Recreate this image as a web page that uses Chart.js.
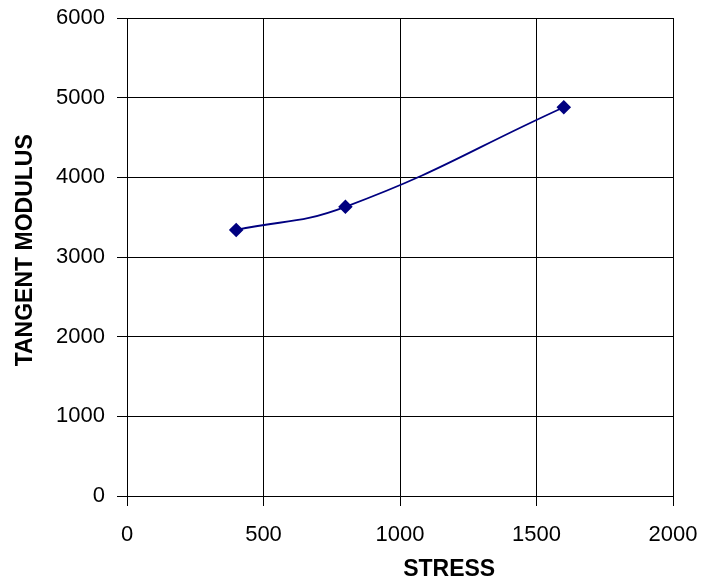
<!DOCTYPE html>
<html>
<head>
<meta charset="utf-8">
<script src="https://cdn.jsdelivr.net/npm/chart.js@4/dist/chart.umd.min.js"></script>
<style>
  html, body { margin: 0; padding: 0; background: #fff; }
  #wrap { width: 703px; height: 585px; }
</style>
</head>
<body>
<div id="wrap"><canvas id="myChart" width="703" height="585"></canvas></div>
<script>
// values
var stress = [400, 800, 1600];
var modulus = [3340, 3630, 4880];
var xTicks = [0, 500, 1000, 1500, 2000];
var yTicks = [0, 1000, 2000, 3000, 4000, 5000, 6000];
var xTitle = 'STRESS';
var yTitle = 'TANGENT MODULUS';

var points = stress.map(function (s, i) {
    return { x: s, y: modulus[i] };
});

Chart.defaults.font.family = "'Liberation Sans', Arial, sans-serif";
Chart.defaults.color = '#000';

function plain(v) {
    return String(v);
}

// axis titles sit off-centre in the original, so draw them here
const axisTitles = {
    id: 'axisTitles',
    afterDraw: function (chart) {
        var ctx = chart.ctx;
        var area = chart.chartArea;
        ctx.save();
        ctx.fillStyle = '#000';
        ctx.font = "bold 23px 'Liberation Sans', Arial, sans-serif";
        ctx.textAlign = 'center';
        ctx.textBaseline = 'middle';
        ctx.fillText(xTitle, area.left + (area.right - area.left) * 0.59, 570);
        ctx.translate(26, area.top + (area.bottom - area.top) * 0.486);
        ctx.rotate(-Math.PI / 2);
        ctx.fillText(yTitle, 0, 0);
        ctx.restore();
    }
};

const config = {
    type: 'scatter',
    data: {
        datasets: [{
            label: 'Tangent modulus',
            data: points,
            showLine: true,
            tension: 0.45,
            borderColor: '#000080',
            backgroundColor: '#000080',
            borderWidth: 1.8,
            pointStyle: 'rectRot',
            pointRadius: 6,
            pointHoverRadius: 6
        }]
    },
    options: {
        responsive: false,
        animation: false,
        layout: {
            padding: { top: 18, right: 30, left: 0, bottom: 0 }
        },
        plugins: {
            legend: { display: false },
            tooltip: { enabled: false }
        },
        scales: {
            x: {
                type: 'linear',
                min: 0,
                max: 2000,
                afterFit: function (s) {
                    s.height = 89;
                    s.paddingLeft = 0;
                    s.paddingRight = 0;
                },
                afterBuildTicks: function (s) {
                    s.ticks = xTicks.map(function (v) { return { value: v }; });
                },
                grid: { color: '#000', lineWidth: 1, tickLength: 10 },
                border: { color: '#000', width: 1 },
                ticks: { font: { size: 22 }, padding: 16, maxRotation: 0, callback: plain }
            },
            y: {
                type: 'linear',
                min: 0,
                max: 6000,
                afterFit: function (s) {
                    s.width = 127;
                    s.paddingTop = 0;
                    s.paddingBottom = 0;
                },
                afterBuildTicks: function (s) {
                    s.ticks = yTicks.map(function (v) { return { value: v }; });
                },
                grid: { color: '#000', lineWidth: 1, tickLength: 10 },
                border: { color: '#000', width: 1 },
                ticks: { font: { size: 22 }, padding: 12, callback: plain }
            }
        }
    },
    plugins: [axisTitles]
};

var myChart = new Chart(document.getElementById('myChart'), config);
</script>
</body>
</html>
